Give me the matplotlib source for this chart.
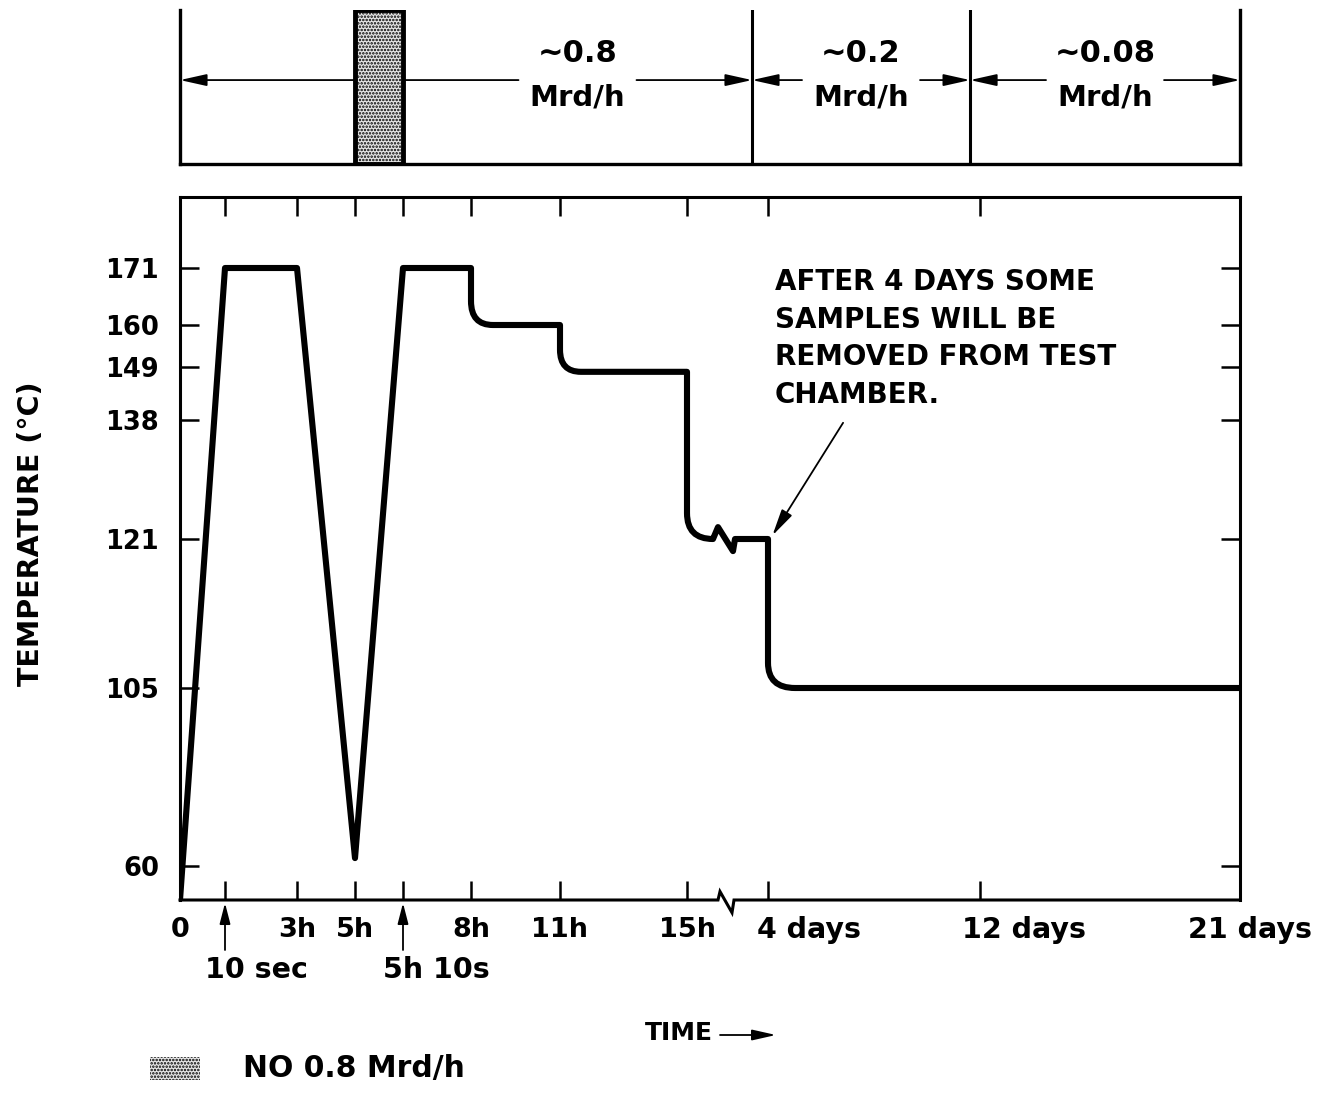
import numpy as np
import matplotlib
matplotlib.use('Agg')
import matplotlib.pyplot as plt
from matplotlib.path import Path
from matplotlib.patches import PathPatch, Rectangle, FancyArrowPatch
from matplotlib.transforms import blended_transform_factory

plt.rcParams.update({
    'font.family': ['DejaVu Sans'],
    'font.weight': 'bold',
    'font.size': 19,
    'hatch.linewidth': 1.2,
})

SEC = 1 / 3600.0

# schematic (non-linear) axes: real value -> position along the drawn axis
axis_hours = [0, 10 * SEC, 3, 5, 5 + 10 * SEC, 8, 11, 15, 96, 288, 504]
axis_pos = [0, 45, 117, 175, 223, 291, 380, 507, 588, 800, 1060]
temp_anchor = [25, 60, 105, 121, 138, 149, 160, 171, 190]
temp_anchor_pos = [0, 34, 212, 361, 480, 533, 575, 632, 703]

# ticks
temp_ticks = [60, 105, 121, 138, 149, 160, 171]
time_ticks = [10 * SEC, 3, 5, 5 + 10 * SEC, 8, 11, 15, 96, 288]
hour_ticks = [0, 3, 5, 8, 11, 15]
hour_labels = ['0', '3h', '5h', '8h', '11h', '15h']
day_ticks = [96, 288, 504]
day_labels = ['4 days', '12 days', '21 days']
marked_ticks = [10 * SEC, 5 + 10 * SEC]
marked_labels = ['10 sec', '5h 10s']

# temperature profile (hours, degC); 'c' = rounded corner control point
prof_t = [0, 10 * SEC, 3, 5, 5 + 10 * SEC, 8, 8, 8, 8.74, 11, 11, 11, 11.66,
          15, 15, 15, 41, 46, 61, 63, 96, 96, 96, 120.5, 504]
prof_T = [25, 171, 171, 62, 171, 171, 164.6, 160, 160, 160, 153.5, 148, 148,
          148, 124.7, 121, 121, 122.7, 119.7, 121, 121, 107.7, 105, 105, 105]
prof_kind = ['m', 'l', 'l', 'l', 'l', 'l', 'l', 'c', 'e', 'l', 'l', 'c', 'e',
             'l', 'l', 'c', 'e', 'l', 'l', 'l', 'l', 'l', 'c', 'e', 'l']

# dose rate periods (hours)
dose_edges = [0, 80, 279, 504]
dose_labels = ['~0.8', '~0.2', '~0.08']
gap_start, gap_end = 5, 5 + 10 * SEC   # no 0.8 Mrd/h
break_t = [46, 48, 60, 62]             # axis break


def fwd_t(x):
    return np.interp(x, axis_hours, axis_pos)


def inv_t(p):
    return np.interp(p, axis_pos, axis_hours)


def fwd_T(y):
    return np.interp(y, temp_anchor, temp_anchor_pos)


def inv_T(p):
    return np.interp(p, temp_anchor_pos, temp_anchor)


PX = 0.72  # pixels -> points at dpi 100
fig = plt.figure(figsize=(13.2, 11.07), dpi=100)
ax = fig.add_axes([180 / 1320, 1 - 900 / 1107, 1060 / 1320, 703 / 1107])
ax.set_xscale('function', functions=(fwd_t, inv_t))
ax.set_yscale('function', functions=(fwd_T, inv_T))
ax.set_xlim(0, 504)
ax.set_ylim(25, 190)

codes = [{'m': Path.MOVETO, 'l': Path.LINETO,
          'c': Path.CURVE3, 'e': Path.CURVE3}[k] for k in prof_kind]
path = Path(np.column_stack([prof_t, prof_T]), codes)
ax.add_patch(PathPatch(path, fill=False, lw=4.4, edgecolor='k',
                       joinstyle='round', capstyle='butt', zorder=3))

for s in ['left', 'right', 'top']:
    ax.spines[s].set_linewidth(2.2)
ax.spines['bottom'].set_visible(False)
bl = blended_transform_factory(ax.transData, ax.transAxes)
bx = [0, break_t[0], break_t[1], break_t[2], break_t[3], 504]
by = [0, 0, 0.012, -0.018, 0, 0]
ax.plot(bx, by, transform=bl, color='k', lw=2.2, clip_on=False,
        solid_joinstyle='miter')

ax.set_yticks(temp_ticks)
ax.set_yticklabels([str(v) for v in temp_ticks])
ax.set_xticks(time_ticks)
ax.set_xticklabels([])
ax.xaxis.set_minor_locator(matplotlib.ticker.NullLocator())
ax.yaxis.set_minor_locator(matplotlib.ticker.NullLocator())
ax.tick_params(direction='in', length=14, width=1.8, top=True, right=True,
               labelsize=18.5, pad=15)

for t, lab in zip(hour_ticks, hour_labels):
    ax.annotate(lab, xy=(t, 0), xycoords=bl, xytext=(0, -30 * PX),
                textcoords='offset points', ha='center', va='center',
                fontsize=19.5)
for t, lab, dx in zip(day_ticks, day_labels, [-11, -18, -52]):
    ax.annotate(lab, xy=(t, 0), xycoords=bl, xytext=(dx * PX, -30 * PX),
                textcoords='offset points', ha='left', va='center',
                fontsize=20.5, annotation_clip=False)
for t, lab in zip(marked_ticks, marked_labels):
    ax.annotate(lab, xy=(t, 0), xycoords=bl, xytext=(-20 * PX, -70 * PX),
                textcoords='offset points', ha='left', va='center',
                fontsize=20.5)
    ax.annotate('', xy=(t, -3 / 703), xycoords=bl, xytext=(t, -50 / 703),
                textcoords=bl,
                arrowprops=dict(arrowstyle='-|>,head_length=0.7,head_width=0.18',
                                mutation_scale=18, lw=1.3, color='k',
                                shrinkA=0, shrinkB=0))

ax.text(0.561, 0.899, 'AFTER 4 DAYS SOME\nSAMPLES WILL BE\nREMOVED FROM TEST\nCHAMBER.',
        transform=ax.transAxes, ha='left', va='top', fontsize=20,
        linespacing=1.44)
ax.annotate('', xy=(100, 121.5), xytext=(164, 137.6),
            arrowprops=dict(arrowstyle='-|>,head_length=0.9,head_width=0.2',
                            mutation_scale=18, lw=1.3, color='k',
                            shrinkA=0, shrinkB=0))

fig.text(31 / 1320, 1 - 534 / 1107, 'TEMPERATURE (°C)', rotation=90,
         ha='center', va='center', fontsize=20.5)
fig.text(679 / 1320, 1 - 1033 / 1107, 'TIME', ha='center', va='center',
         fontsize=18)
fig.patches.append(FancyArrowPatch(
    (720 / 1320, 1 - 1035 / 1107), (776 / 1320, 1 - 1035 / 1107),
    transform=fig.transFigure, arrowstyle='-|>,head_length=0.8,head_width=0.18',
    mutation_scale=18, lw=1.3, color='k', shrinkA=0, shrinkB=0))

# legend swatch
fig.patches.append(Rectangle((150 / 1320, 1 - 1080 / 1107), 50 / 1320, 23 / 1107,
                             transform=fig.transFigure, facecolor='#e6e6e6',
                             edgecolor='k', hatch='.....', lw=0))
fig.text(243 / 1320, 1 - 1068 / 1107, 'NO 0.8 Mrd/h', ha='left', va='center',
         fontsize=21.5)

# dose rate panel
top = fig.add_axes([180 / 1320, 1 - 164 / 1107, 1060 / 1320, 154 / 1107])
top.set_xscale('function', functions=(fwd_t, inv_t))
top.set_xlim(0, 504)
top.set_ylim(0, 1)
top.set_xticks([])
top.set_yticks([])
top.xaxis.set_minor_locator(matplotlib.ticker.NullLocator())
top.spines['top'].set_visible(False)
for s in ['left', 'right', 'bottom']:
    top.spines[s].set_linewidth(2.4)
for e in dose_edges[1:-1]:
    top.axvline(e, color='k', lw=2.2)

top.add_patch(Rectangle((gap_start, 0), gap_end - gap_start, 1,
                        facecolor='#e6e6e6', edgecolor='k', hatch='.....',
                        lw=3.5, zorder=4))

head = dict(arrowstyle='-|>,head_length=0.9,head_width=0.2',
            mutation_scale=18, lw=1.3, color='k', shrinkA=0, shrinkB=0)
for i, lab in enumerate(dose_labels):
    a, b = dose_edges[i], dose_edges[i + 1]
    a_txt = gap_end if i == 0 else a
    c = (fwd_t(a_txt) + fwd_t(b)) / 2
    top.annotate('', xy=(a, 0.545), xytext=(inv_t(c - 59), 0.545), arrowprops=head)
    top.annotate('', xy=(b, 0.545), xytext=(inv_t(c + 59), 0.545), arrowprops=head)
    top.text(inv_t(c), 0.72, lab, ha='center', va='center', fontsize=22)
    top.text(inv_t(c), 0.435, 'Mrd/h', ha='center', va='center', fontsize=21)

fig.savefig('out.png', dpi=100)
